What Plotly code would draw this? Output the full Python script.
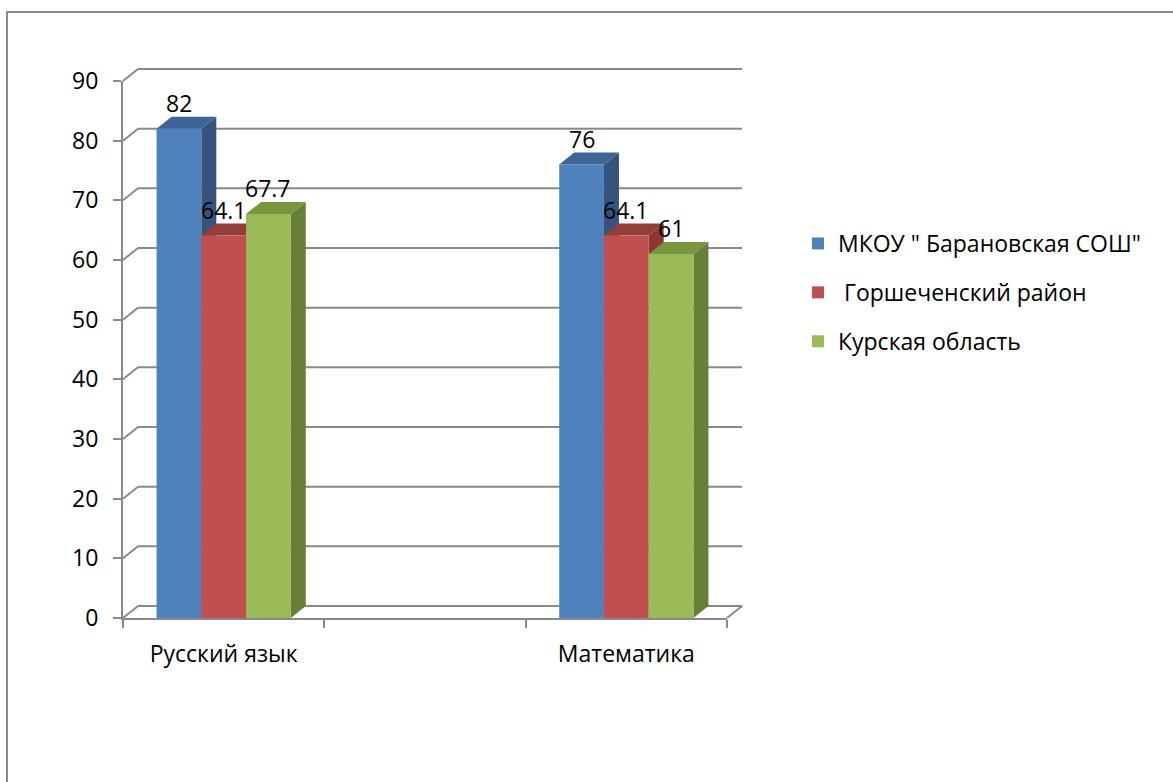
import plotly.graph_objects as go

# ---- data ----
categories = ["Русский язык", " ", "Математика"]
series_names = ['МКОУ " Барановская СОШ"', '\u00a0Горшеченский район', 'Курская область']
school = [82, None, 76]
district = [64.1, None, 64.1]
region = [67.7, None, 61]
y_ticks = [0, 10, 20, 30, 40, 50, 60, 70, 80, 90]

series_values = [school, district, region]
front_colors = ["#4F81BD", "#C0504D", "#9BBB59"]
top_colors = ["#3E6596", "#943E3C", "#78953F"]
side_colors = ["#36537D", "#8B3734", "#687F38"]

W, H = 1173, 782
ML, MR, MT, MB = 123, 446, 81, 164
PW, PH = W - ML - MR, H - MT - MB
YMAX = 90
BARGAP = 1 / 3
NCAT = len(categories)
NSER = len(series_values)
DEPTH_X, DEPTH_Y = 15, 12   # pixel depth of the 3D effect
GRID = "#898989"
FONT = "Open Sans"
FS = 23

dxp = DEPTH_X / PW
dyp = DEPTH_Y / PH


def xpaper(xd):
    return (xd + 0.5) / NCAT


def ypaper(v):
    return v / YMAX


def px_x(p):
    return (p - ML) / PW


def px_y(p):
    return (H - MB - p) / PH


fig = go.Figure()
for name, vals, col in zip(series_names, series_values, front_colors):
    fig.add_trace(go.Bar(
        x=categories, y=vals, name=name, marker=dict(color=col, line=dict(width=0)),
        legendgroup=name, hoverinfo="skip",
    ))

shapes = []
# outer chart border (only top and left visible)
shapes.append(dict(type="rect", xref="paper", yref="paper",
                   x0=px_x(7), x1=px_x(W + 20), y0=px_y(H + 20), y1=px_y(12),
                   line=dict(color="#8a8a8a", width=2), layer="below"))

# back wall gridlines + left wall connectors
for v in y_ticks:
    yb = ypaper(v) + dyp
    shapes.append(dict(type="line", xref="paper", yref="paper",
                       x0=dxp, x1=1 + dxp, y0=yb, y1=yb,
                       line=dict(color=GRID, width=2), layer="below"))
    shapes.append(dict(type="line", xref="paper", yref="paper",
                       x0=0, x1=dxp, y0=ypaper(v), y1=yb,
                       line=dict(color=GRID, width=2), layer="below"))
# floor right connector
shapes.append(dict(type="line", xref="paper", yref="paper",
                   x0=1, x1=1 + dxp, y0=0, y1=dyp,
                   line=dict(color=GRID, width=2), layer="below"))

# 3D side and top faces of the bars
w = (1 - BARGAP) / NSER
annotations = []
for c in range(NCAT):
    for i, vals in enumerate(series_values):
        v = vals[c]
        if v is None:
            continue
        xl = xpaper(c - 0.5 + BARGAP / 2 + i * w)
        xr = xpaper(c - 0.5 + BARGAP / 2 + (i + 1) * w)
        yt = ypaper(v)
        side = f"M{xr},0 L{xr},{yt} L{xr + dxp},{yt + dyp} L{xr + dxp},{dyp} Z"
        top = f"M{xl},{yt} L{xr},{yt} L{xr + dxp},{yt + dyp} L{xl + dxp},{yt + dyp} Z"
        shapes.append(dict(type="path", xref="paper", yref="paper", path=side,
                           fillcolor=side_colors[i], line=dict(width=0), layer="below"))
        shapes.append(dict(type="path", xref="paper", yref="paper", path=top,
                           fillcolor=top_colors[i], line=dict(width=0), layer="below"))
        annotations.append(dict(
            xref="paper", yref="paper", x=(xl + xr) / 2, y=yt, yshift=26,
            xanchor="center", yanchor="middle",
            text=f"{v:g}", showarrow=False,
            font=dict(family=FONT, size=FS, color="#000000")))

fig.update_layout(
    width=W, height=H,
    margin=dict(l=ML, r=MR, t=MT, b=MB, autoexpand=False),
    paper_bgcolor="white", plot_bgcolor="rgba(0,0,0,0)",
    barmode="group", bargap=BARGAP, bargroupgap=0,
    font=dict(family=FONT, size=FS, color="#000000"),
    shapes=shapes, annotations=annotations,
    showlegend=True,
    legend=dict(x=px_x(798), y=px_y(222), xanchor="left", yanchor="top",
                traceorder="grouped", tracegroupgap=16,
                font=dict(family=FONT, size=FS, color="#000000"),
                bgcolor="rgba(0,0,0,0)"),
    xaxis=dict(type="category", categoryorder="array", categoryarray=categories,
               range=[-0.5, NCAT - 0.5], showgrid=False, zeroline=False,
               showline=True, linecolor=GRID, linewidth=2,
               ticks="outside", tickson="boundaries", ticklen=8, tickwidth=2,
               tickcolor=GRID, ticklabelstandoff=14,
               tickfont=dict(family=FONT, size=FS, color="#000000")),
    yaxis=dict(range=[0, YMAX], tickvals=y_ticks, showgrid=False, zeroline=False,
               showline=True, linecolor=GRID, linewidth=2,
               ticks="outside", ticklen=8, tickwidth=2, tickcolor=GRID,
               ticklabelstandoff=10,
               tickfont=dict(family=FONT, size=FS, color="#000000")),
)

fig.write_html("out.html", config={"displayModeBar": False},
               post_script="document.body.style.margin='0';")
